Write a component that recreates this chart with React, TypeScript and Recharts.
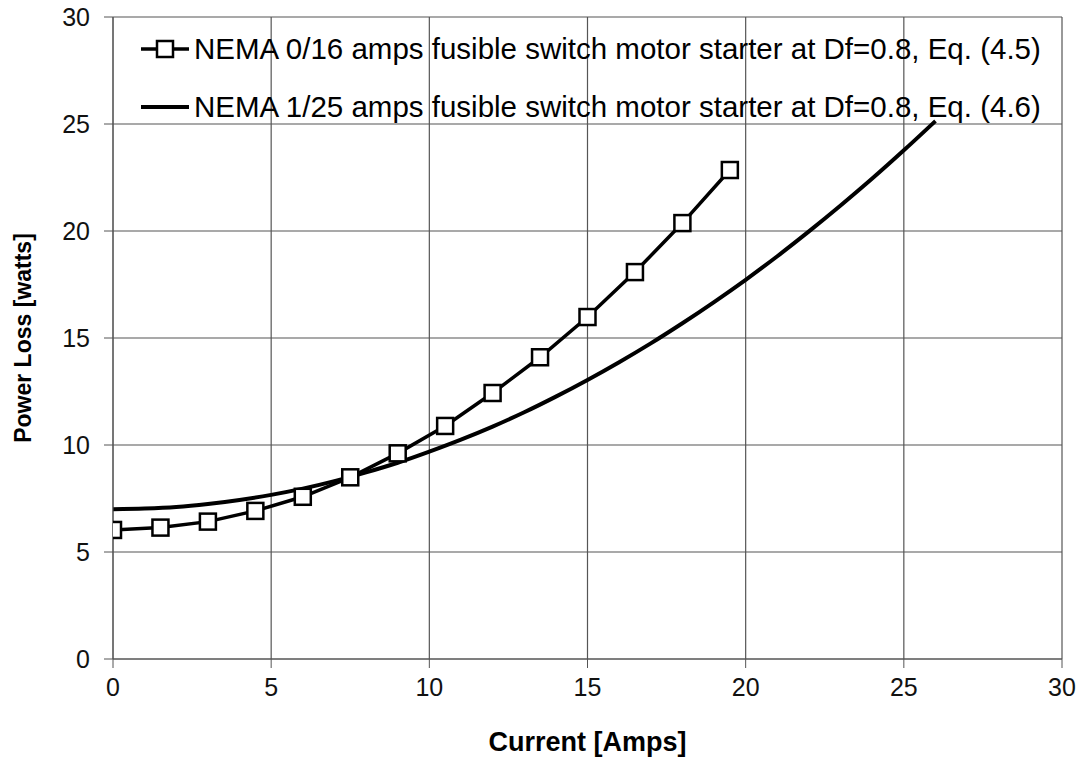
import { CartesianGrid, Line, LineChart, XAxis, YAxis } from "recharts";

// NEMA 0/16 starter, Eq. (4.5) - measured points
const currentA = [0, 1.5, 3, 4.5, 6, 7.5, 9, 10.5, 12, 13.5, 15, 16.5, 18, 19.5];
const lossA = [6.03, 6.14, 6.42, 6.92, 7.58, 8.49, 9.61, 10.89, 12.43, 14.1, 15.98, 18.08, 20.37, 22.85];

// NEMA 1/25 starter, Eq. (4.6) - smooth curve
const currentB = [0, 1, 2, 3, 4, 5, 6, 7, 8, 9, 10, 11, 12, 13, 14, 15, 16, 17, 18, 19, 20, 21, 22, 23, 24, 25, 26];
const lossB = [
  7.0, 7.03, 7.1, 7.24, 7.43, 7.67, 7.96, 8.31, 8.72, 9.17, 9.69, 10.25, 10.86, 11.53, 12.26, 13.04, 13.87,
  14.75, 15.69, 16.68, 17.72, 18.82, 19.98, 21.19, 22.45, 23.77, 25.14,
];

const xTicks = [0, 5, 10, 15, 20, 25, 30];
const yTicks = [0, 5, 10, 15, 20, 25, 30];

const nameA = "NEMA 0/16 amps fusible switch motor starter at Df=0.8, Eq. (4.5)";
const nameB = "NEMA 1/25 amps fusible switch motor starter at Df=0.8, Eq. (4.6)";

const dataA = currentA.map((x, i) => ({ x, y: lossA[i] }));
const dataB = currentB.map((x, i) => ({ x, y: lossB[i] }));

const font = "'Liberation Sans', Arial, sans-serif";

function SquareDot(props: any) {
  const { cx, cy, index } = props;
  if (cx == null || cy == null) return null;
  return <rect key={index} x={cx - 8} y={cy - 8} width={16} height={16} fill="#fff" stroke="#000" strokeWidth={2.5} />;
}

// legend sits inside the plot, top-left, like the original
function LegendBox() {
  return (
    <div
      style={{
        position: "absolute",
        left: 139,
        top: 32,
        fontFamily: font,
        fontSize: 29.5,
        color: "#000",
        lineHeight: "34px",
        whiteSpace: "nowrap",
        pointerEvents: "none",
      }}
    >
      <div style={{ display: "flex", alignItems: "center", height: 34 }}>
        <svg width={52} height={30} style={{ marginRight: 3 }}>
          <line x1={2} y1={15} x2={50} y2={15} stroke="#000" strokeWidth={3.5} />
          <rect x={18} y={7} width={16} height={16} fill="#fff" stroke="#000" strokeWidth={2.5} />
        </svg>
        <span>{nameA}</span>
      </div>
      <div style={{ display: "flex", alignItems: "center", height: 34, marginTop: 24 }}>
        <svg width={52} height={30} style={{ marginRight: 3 }}>
          <line x1={2} y1={15} x2={50} y2={15} stroke="#000" strokeWidth={4} />
        </svg>
        <span>{nameB}</span>
      </div>
    </div>
  );
}

export default function App() {
  return (
    <div style={{ position: "absolute", left: 0, top: 0, width: 1082, height: 759, background: "#fff" }}>
      <LineChart width={1082} height={759} margin={{ top: 17, right: 20, left: 0, bottom: 0 }}>
        <CartesianGrid stroke="#555" strokeWidth={1.2} />
        <XAxis
          dataKey="x"
          type="number"
          domain={[0, 30]}
          ticks={xTicks}
          allowDataOverflow
          height={100}
          tickSize={9}
          tickMargin={10}
          stroke="#555"
          tick={{ fontFamily: font, fontSize: 25, fill: "#111" }}
          label={{
            value: "Current [Amps]",
            position: "insideBottom",
            offset: 8,
            style: { fontFamily: font, fontSize: 27, fontWeight: "bold", fill: "#000" },
          }}
        />
        <YAxis
          type="number"
          domain={[0, 30]}
          ticks={yTicks}
          width={113}
          tickSize={9}
          tickMargin={14}
          stroke="#555"
          tick={{ fontFamily: font, fontSize: 25, fill: "#111" }}
          label={{
            value: "Power Loss [watts]",
            angle: -90,
            position: "insideLeft",
            offset: 23,
            style: { textAnchor: "middle", fontFamily: font, fontSize: 23, fontWeight: "bold", fill: "#000" },
          }}
        />
        <Line
          data={dataB}
          dataKey="y"
          name={nameB}
          type="monotone"
          stroke="#000"
          strokeWidth={4}
          dot={false}
          isAnimationActive={false}
        />
        <Line
          data={dataA}
          dataKey="y"
          name={nameA}
          type="linear"
          stroke="#000"
          strokeWidth={3.5}
          dot={<SquareDot />}
          isAnimationActive={false}
        />
      </LineChart>
      <LegendBox />
    </div>
  );
}
